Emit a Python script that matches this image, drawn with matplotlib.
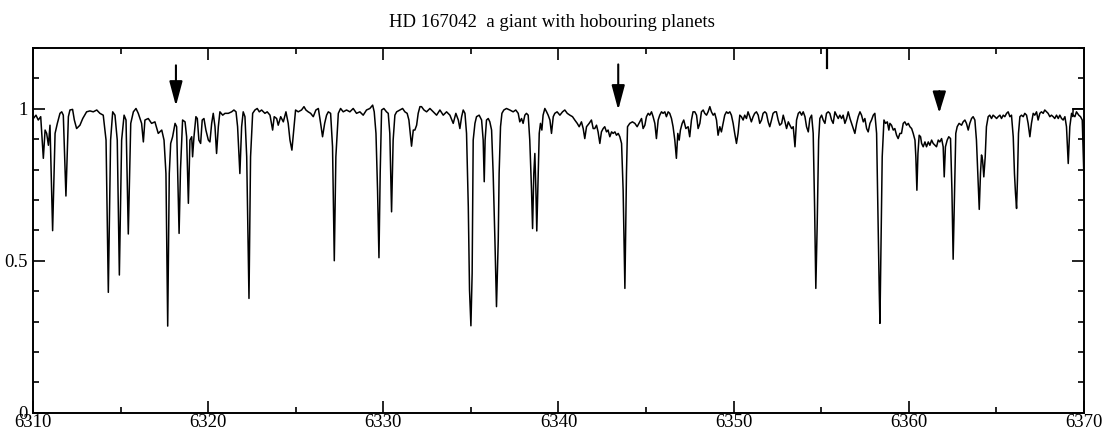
import numpy as np
import matplotlib
matplotlib.use("Agg")
import matplotlib.pyplot as plt
from matplotlib.ticker import MultipleLocator, FuncFormatter

# spectrum (wavelength in A, normalised flux)
wave = [6310.02, 6310.17, 6310.30, 6310.44, 6310.59, 6310.69, 6310.78, 6310.88, 6310.97, 6311.12,
        6311.26, 6311.39, 6311.54, 6311.64, 6311.73, 6311.88, 6312.02, 6312.11, 6312.26, 6312.36,
        6312.49, 6312.68, 6312.84, 6313.06, 6313.25, 6313.44, 6313.64, 6313.82, 6314.01, 6314.17,
        6314.30, 6314.43, 6314.55, 6314.68, 6314.81, 6314.93, 6315.06, 6315.20, 6315.31, 6315.44,
        6315.58, 6315.73, 6315.88, 6316.01, 6316.20, 6316.30, 6316.39, 6316.58, 6316.77, 6316.96,
        6317.15, 6317.35, 6317.48, 6317.59, 6317.69, 6317.78, 6317.86, 6317.97, 6318.11, 6318.20,
        6318.34, 6318.42, 6318.54, 6318.68, 6318.77, 6318.87, 6318.96, 6319.06, 6319.11, 6319.19,
        6319.30, 6319.38, 6319.47, 6319.57, 6319.66, 6319.76, 6319.87, 6320.01, 6320.10, 6320.20,
        6320.29, 6320.39, 6320.48, 6320.58, 6320.67, 6320.83, 6320.96, 6321.15, 6321.34, 6321.47,
        6321.59, 6321.68, 6321.81, 6321.91, 6322.00, 6322.10, 6322.20, 6322.33, 6322.42, 6322.54,
        6322.67, 6322.80, 6322.92, 6323.05, 6323.24, 6323.37, 6323.53, 6323.68, 6323.77, 6323.91,
        6324.00, 6324.14, 6324.29, 6324.44, 6324.57, 6324.67, 6324.78, 6324.90, 6324.99, 6325.14,
        6325.33, 6325.47, 6325.58, 6325.71, 6325.85, 6326.00, 6326.15, 6326.29, 6326.42, 6326.53,
        6326.65, 6326.76, 6326.86, 6326.99, 6327.10, 6327.20, 6327.29, 6327.43, 6327.56, 6327.71,
        6327.90, 6328.09, 6328.28, 6328.47, 6328.66, 6328.85, 6329.04, 6329.23, 6329.39, 6329.48,
        6329.58, 6329.67, 6329.75, 6329.82, 6329.90, 6330.03, 6330.18, 6330.28, 6330.37, 6330.47,
        6330.56, 6330.66, 6330.76, 6330.95, 6331.10, 6331.23, 6331.36, 6331.46, 6331.54, 6331.61,
        6331.71, 6331.80, 6331.90, 6331.99, 6332.09, 6332.18, 6332.32, 6332.47, 6332.66, 6332.85,
        6333.04, 6333.23, 6333.42, 6333.61, 6333.80, 6333.99, 6334.14, 6334.28, 6334.37, 6334.47,
        6334.56, 6334.66, 6334.75, 6334.85, 6334.92, 6335.00, 6335.07, 6335.13, 6335.23, 6335.32,
        6335.47, 6335.61, 6335.70, 6335.76, 6335.81, 6335.89, 6335.99, 6336.08, 6336.18, 6336.27,
        6336.37, 6336.46, 6336.56, 6336.61, 6336.69, 6336.77, 6336.88, 6337.03, 6337.22, 6337.41,
        6337.56, 6337.70, 6337.79, 6337.89, 6337.98, 6338.08, 6338.17, 6338.27, 6338.36, 6338.46,
        6338.52, 6338.59, 6338.65, 6338.71, 6338.76, 6338.84, 6338.90, 6338.97, 6339.05, 6339.12,
        6339.22, 6339.32, 6339.41, 6339.51, 6339.60, 6339.70, 6339.79, 6339.92, 6340.08, 6340.23,
        6340.36, 6340.50, 6340.65, 6340.80, 6340.93, 6341.07, 6341.18, 6341.31, 6341.41, 6341.50,
        6341.60, 6341.75, 6341.88, 6341.98, 6342.07, 6342.17, 6342.26, 6342.36, 6342.45, 6342.55,
        6342.64, 6342.74, 6342.83, 6342.93, 6343.03, 6343.12, 6343.22, 6343.31, 6343.41, 6343.50,
        6343.60, 6343.69, 6343.79, 6343.88, 6343.94, 6344.07, 6344.22, 6344.36, 6344.49, 6344.64,
        6344.74, 6344.83, 6344.93, 6345.02, 6345.12, 6345.21, 6345.31, 6345.40, 6345.50, 6345.59,
        6345.69, 6345.78, 6345.88, 6345.97, 6346.07, 6346.16, 6346.26, 6346.35, 6346.45, 6346.54,
        6346.64, 6346.73, 6346.81, 6346.89, 6346.96, 6347.06, 6347.15, 6347.27, 6347.40, 6347.49,
        6347.59, 6347.68, 6347.78, 6347.88, 6347.97, 6348.07, 6348.16, 6348.26, 6348.35, 6348.45,
        6348.54, 6348.64, 6348.73, 6348.83, 6348.92, 6349.02, 6349.11, 6349.21, 6349.30, 6349.40,
        6349.49, 6349.59, 6349.68, 6349.78, 6349.87, 6349.97, 6350.06, 6350.16, 6350.25, 6350.35,
        6350.44, 6350.54, 6350.63, 6350.73, 6350.82, 6350.92, 6351.01, 6351.11, 6351.20, 6351.30,
        6351.40, 6351.49, 6351.59, 6351.68, 6351.78, 6351.87, 6351.97, 6352.06, 6352.16, 6352.25,
        6352.35, 6352.44, 6352.54, 6352.63, 6352.74, 6352.83, 6352.93, 6353.02, 6353.12, 6353.21,
        6353.31, 6353.40, 6353.50, 6353.59, 6353.69, 6353.78, 6353.88, 6353.97, 6354.07, 6354.16,
        6354.26, 6354.35, 6354.45, 6354.54, 6354.62, 6354.69, 6354.77, 6354.85, 6354.92, 6355.02,
        6355.11, 6355.21, 6355.30, 6355.40, 6355.49, 6355.59, 6355.68, 6355.78, 6355.87, 6355.97,
        6356.06, 6356.16, 6356.25, 6356.35, 6356.45, 6356.54, 6356.64, 6356.73, 6356.83, 6356.92,
        6357.02, 6357.11, 6357.21, 6357.30, 6357.40, 6357.49, 6357.59, 6357.68, 6357.78, 6357.87,
        6357.97, 6358.06, 6358.16, 6358.23, 6358.31, 6358.35, 6358.40, 6358.48, 6358.58, 6358.67,
        6358.77, 6358.86, 6358.92, 6359.01, 6359.11, 6359.20, 6359.30, 6359.39, 6359.49, 6359.58,
        6359.68, 6359.77, 6359.87, 6359.97, 6360.06, 6360.16, 6360.25, 6360.35, 6360.40, 6360.46,
        6360.52, 6360.59, 6360.67, 6360.73, 6360.82, 6360.92, 6361.01, 6361.11, 6361.20, 6361.30,
        6361.39, 6361.49, 6361.58, 6361.68, 6361.77, 6361.87, 6361.96, 6362.02, 6362.09, 6362.19,
        6362.28, 6362.38, 6362.46, 6362.53, 6362.61, 6362.68, 6362.76, 6362.87, 6363.01, 6363.10,
        6363.20, 6363.29, 6363.39, 6363.48, 6363.58, 6363.67, 6363.77, 6363.86, 6363.94, 6364.02,
        6364.09, 6364.15, 6364.21, 6364.28, 6364.36, 6364.43, 6364.53, 6364.62, 6364.72, 6364.81,
        6364.91, 6365.01, 6365.10, 6365.20, 6365.29, 6365.39, 6365.48, 6365.58, 6365.67, 6365.77,
        6365.86, 6365.96, 6366.03, 6366.09, 6366.15, 6366.20, 6366.26, 6366.34, 6366.43, 6366.53,
        6366.62, 6366.72, 6366.81, 6366.91, 6367.00, 6367.10, 6367.19, 6367.29, 6367.38, 6367.48,
        6367.57, 6367.67, 6367.76, 6367.86, 6367.95, 6368.05, 6368.14, 6368.24, 6368.33, 6368.43,
        6368.53, 6368.62, 6368.72, 6368.81, 6368.91, 6369.00, 6369.10, 6369.19, 6369.29, 6369.38,
        6369.48, 6369.57, 6369.70, 6369.80, 6369.90, 6369.99, 6370.05]

flux = [0.968, 0.979, 0.963, 0.974, 0.837, 0.930, 0.919, 0.880, 0.946, 0.599,
        0.919, 0.952, 0.985, 0.990, 0.979, 0.713, 0.974, 0.996, 0.998, 0.963,
        0.935, 0.946, 0.968, 0.990, 0.993, 0.990, 0.996, 0.985, 0.979, 0.897,
        0.396, 0.897, 0.990, 0.979, 0.897, 0.453, 0.897, 0.979, 0.963, 0.588,
        0.952, 0.990, 1.001, 0.985, 0.952, 0.891, 0.963, 0.968, 0.952, 0.957,
        0.919, 0.930, 0.897, 0.787, 0.285, 0.787, 0.886, 0.908, 0.952, 0.941,
        0.590, 0.800, 0.963, 0.957, 0.908, 0.689, 0.897, 0.908, 0.842, 0.908,
        0.974, 0.968, 0.897, 0.886, 0.963, 0.968, 0.930, 0.897, 0.891, 0.952,
        0.985, 0.941, 0.853, 0.941, 0.990, 0.979, 0.985, 0.985, 0.990, 0.996,
        0.990, 0.941, 0.787, 0.941, 0.990, 0.974, 0.842, 0.376, 0.842, 0.985,
        0.996, 1.001, 0.990, 0.996, 0.985, 0.990, 0.979, 0.930, 0.974, 0.968,
        0.946, 0.974, 0.957, 0.990, 0.952, 0.897, 0.864, 0.941, 0.996, 0.990,
        0.996, 1.007, 0.996, 0.990, 0.985, 0.974, 0.996, 1.001, 0.952, 0.908,
        0.952, 0.979, 0.990, 0.985, 0.875, 0.500, 0.842, 0.985, 1.001, 0.990,
        0.996, 0.990, 1.001, 0.985, 0.990, 0.979, 0.996, 1.001, 1.012, 0.990,
        0.919, 0.732, 0.510, 0.787, 0.996, 1.001, 0.990, 0.985, 0.919, 0.661,
        0.897, 0.979, 0.990, 0.996, 1.001, 0.990, 0.985, 0.963, 0.919, 0.877,
        0.930, 0.930, 0.946, 0.985, 1.007, 1.007, 0.996, 0.990, 1.001, 0.990,
        0.979, 0.996, 0.979, 0.990, 0.979, 0.952, 0.985, 0.963, 0.935, 0.974,
        0.996, 0.985, 0.919, 0.678, 0.404, 0.286, 0.458, 0.897, 0.952, 0.974,
        0.979, 0.963, 0.897, 0.760, 0.897, 0.963, 0.968, 0.957, 0.930, 0.787,
        0.568, 0.349, 0.568, 0.787, 0.941, 0.985, 0.996, 1.001, 0.996, 0.990,
        0.996, 0.985, 0.957, 0.968, 0.952, 0.979, 0.985, 0.979, 0.897, 0.732,
        0.606, 0.787, 0.853, 0.732, 0.598, 0.787, 0.919, 0.952, 0.930, 0.979,
        1.001, 0.990, 0.979, 0.963, 0.919, 0.974, 0.985, 0.990, 0.979, 0.990,
        0.996, 0.985, 0.979, 0.974, 0.963, 0.952, 0.941, 0.957, 0.935, 0.902,
        0.941, 0.952, 0.963, 0.935, 0.935, 0.946, 0.924, 0.886, 0.924, 0.935,
        0.941, 0.924, 0.930, 0.908, 0.924, 0.919, 0.924, 0.913, 0.919, 0.908,
        0.886, 0.732, 0.409, 0.787, 0.941, 0.952, 0.957, 0.952, 0.941, 0.957,
        0.968, 0.935, 0.946, 0.974, 0.985, 0.979, 0.990, 0.974, 0.952, 0.902,
        0.963, 0.979, 0.990, 0.985, 0.990, 0.974, 0.990, 0.985, 0.968, 0.941,
        0.897, 0.837, 0.919, 0.897, 0.930, 0.952, 0.963, 0.935, 0.941, 0.908,
        0.963, 0.990, 0.990, 0.979, 0.935, 0.952, 0.990, 0.996, 0.985, 0.979,
        0.990, 1.007, 0.990, 0.979, 0.985, 0.963, 0.913, 0.941, 0.924, 0.952,
        0.979, 0.990, 0.985, 0.990, 0.979, 0.952, 0.919, 0.886, 0.919, 0.979,
        0.974, 0.963, 0.979, 0.968, 0.990, 0.974, 0.957, 0.974, 0.985, 0.990,
        0.979, 0.952, 0.963, 0.985, 0.990, 0.985, 0.957, 0.941, 0.963, 0.985,
        0.990, 0.990, 0.963, 0.946, 0.952, 0.979, 0.957, 0.935, 0.957, 0.946,
        0.935, 0.941, 0.875, 0.963, 0.985, 0.990, 0.979, 0.990, 0.974, 0.941,
        0.924, 0.968, 0.979, 0.919, 0.678, 0.409, 0.623, 0.897, 0.968, 0.979,
        0.963, 0.952, 0.985, 0.990, 0.985, 0.963, 0.952, 0.990, 0.979, 0.968,
        0.979, 0.968, 0.979, 0.952, 0.968, 0.990, 0.968, 0.952, 0.935, 0.919,
        0.952, 0.974, 0.990, 0.979, 0.957, 0.968, 0.935, 0.924, 0.952, 0.963,
        0.979, 0.985, 0.919, 0.678, 0.404, 0.294, 0.513, 0.842, 0.963, 0.952,
        0.957, 0.930, 0.952, 0.946, 0.930, 0.935, 0.913, 0.902, 0.919, 0.919,
        0.952, 0.957, 0.946, 0.952, 0.941, 0.935, 0.919, 0.897, 0.842, 0.732,
        0.853, 0.913, 0.908, 0.886, 0.875, 0.891, 0.875, 0.891, 0.880, 0.897,
        0.886, 0.880, 0.875, 0.897, 0.891, 0.902, 0.875, 0.776, 0.875, 0.897,
        0.908, 0.902, 0.732, 0.505, 0.732, 0.919, 0.941, 0.952, 0.946, 0.957,
        0.963, 0.952, 0.930, 0.952, 0.968, 0.974, 0.963, 0.897, 0.787, 0.669,
        0.787, 0.848, 0.831, 0.776, 0.842, 0.941, 0.974, 0.979, 0.968, 0.979,
        0.974, 0.968, 0.974, 0.979, 0.968, 0.979, 0.974, 0.985, 0.990, 0.974,
        0.979, 0.908, 0.787, 0.721, 0.672, 0.765, 0.919, 0.974, 0.979, 0.974,
        0.985, 0.979, 0.952, 0.908, 0.952, 0.985, 0.979, 0.990, 0.963, 0.985,
        0.990, 0.985, 0.996, 0.990, 0.985, 0.974, 0.979, 0.974, 0.968, 0.979,
        0.968, 0.979, 0.968, 0.963, 0.974, 0.941, 0.820, 0.941, 0.985, 0.979,
        0.974, 0.990, 0.979, 0.974, 0.963, 0.787, 0.750]

# short piece of the neighbouring order at the right edge
edge_wave = [6369.36, 6369.38, 6370.0]
edge_flux = [0.975, 1.0, 1.0]

# arrows: wavelength, tip flux, tail flux
arrow_wave = [6318.16, 6343.41, 6361.74]
arrow_tip = [1.009, 0.996, 0.986]
arrow_tail = [1.143, 1.146, 1.058]

mark_wave = 6355.3
mark_flux = [1.2, 1.134]

title = "HD 167042  a giant with hobouring planets"

plt.rcParams['font.family'] = ['Liberation Serif', 'DejaVu Serif']

fig = plt.figure(figsize=(11.06, 4.34), dpi=100)
ax = fig.add_axes([33 / 1106, 21.3 / 434, 1051 / 1106, 364.7 / 434])

ax.plot(wave, flux, color='black', lw=1.1, clip_on=True)
ax.plot(edge_wave, edge_flux, color='black', lw=1.1)
ax.plot([mark_wave, mark_wave], mark_flux, color='black', lw=1.6)

for w, tip, tail in zip(arrow_wave, arrow_tip, arrow_tail):
    hl = 15 if tail - tip > 0.1 else 13
    ax.annotate('', xy=(w, tip), xytext=(w, tail),
                arrowprops=dict(arrowstyle='-|>,head_length=%d,head_width=4' % hl,
                                mutation_scale=1, lw=1.5, color='black',
                                shrinkA=0, shrinkB=0))

ax.set_xlim(6310, 6370)
ax.set_ylim(0, 1.2)
ax.xaxis.set_major_locator(MultipleLocator(10))
ax.xaxis.set_minor_locator(MultipleLocator(5))
ax.yaxis.set_major_locator(MultipleLocator(0.5))
ax.yaxis.set_minor_locator(MultipleLocator(0.1))
ax.yaxis.set_major_formatter(FuncFormatter(lambda v, p: '%g' % v))
ax.xaxis.set_major_formatter(FuncFormatter(lambda v, p: '%d' % v))

ax.tick_params(which='both', direction='in', top=True, right=True, width=1.2)
ax.tick_params(which='major', length=8.6)
ax.tick_params(which='minor', length=4.6)
ax.tick_params(axis='x', labelsize=13.5, pad=1)
ax.tick_params(axis='y', labelsize=13.5, pad=4)
for s in ax.spines.values():
    s.set_linewidth(1.4)

fig.text(551.5 / 1106, 1 - 27.3 / 434, title, ha='center', va='baseline', fontsize=13.5)

fig.savefig('out.png', dpi=100)
